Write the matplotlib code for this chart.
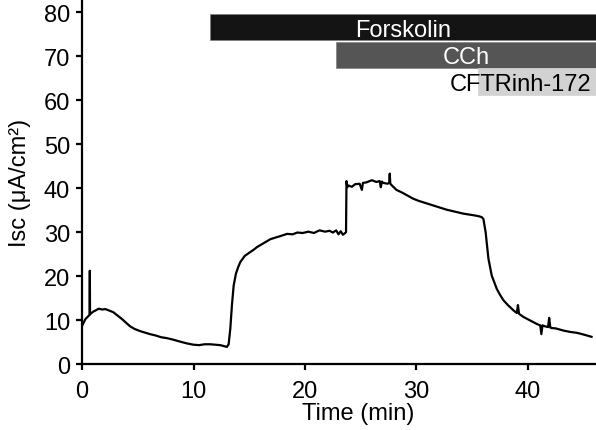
import matplotlib
matplotlib.use("Agg")
import matplotlib.pyplot as plt

plt.rcParams['font.family'] = ['Liberation Sans', 'DejaVu Sans']

# Trace: time (min) and Isc (uA/cm2)
time = [0.05, 0.3, 0.6, 0.68, 0.7, 0.72, 0.75, 1.0, 1.3, 1.5, 1.8, 2.1, 2.4, 2.8,
        3.2, 3.6, 4.0, 4.3, 4.7, 5.2, 5.6, 6.1, 6.6, 7.1, 7.6, 8.1, 8.8, 9.4, 10.0,
        10.5, 11.0, 11.5, 12.0, 12.4, 12.7, 13.0, 13.15, 13.3, 13.45, 13.6, 13.8,
        14.0, 14.2, 14.6, 15.0, 15.4, 15.7, 16.1, 16.5, 16.9, 17.3, 17.8, 18.4, 18.9,
        19.3, 19.8, 20.3, 20.8, 21.3, 21.8, 22.2, 22.5, 22.8, 23.0, 23.2, 23.4, 23.6,
        23.68, 23.72, 23.8, 23.9, 24.2, 24.5, 24.9, 25.1, 25.2, 25.5, 26.0, 26.4,
        26.7, 26.8, 26.9, 27.0, 27.4, 27.55, 27.6, 27.65, 27.8, 28.2, 28.7, 29.2,
        29.7, 30.2, 30.7, 31.2, 31.7, 32.2, 32.7, 33.2, 33.7, 34.2, 34.7, 35.2, 35.6,
        35.85, 36.0, 36.2, 36.45, 36.75, 37.0, 37.2, 37.5, 37.8, 38.2, 38.7, 39.0,
        39.1, 39.2, 39.6, 40.2, 40.8, 41.1, 41.2, 41.3, 41.5, 41.8, 41.9, 42.0, 42.1,
        42.5, 43.2, 43.8, 44.4, 45.0, 45.7]
isc = [8.9, 10.2, 11.0, 11.2, 21.2, 11.3, 11.4, 11.9, 12.3, 12.6, 12.4, 12.5, 12.2, 11.8,
       11.0, 10.2, 9.3, 8.6, 8.0, 7.5, 7.2, 6.8, 6.5, 6.1, 5.9, 5.6, 5.1, 4.7, 4.4,
       4.3, 4.5, 4.5, 4.4, 4.3, 4.1, 3.9, 4.5, 8.0, 13.5, 17.8, 20.5,
       22.0, 23.2, 24.6, 25.3, 26.0, 26.6, 27.2, 27.8, 28.4, 28.7, 29.1, 29.6, 29.5,
       29.9, 29.8, 30.1, 29.8, 30.4, 30.1, 30.3, 29.9, 30.4, 29.5, 30.2, 29.4, 29.8,
       30.0, 41.6, 40.2, 40.6, 40.3, 40.9, 41.0, 39.6, 41.2, 41.3, 41.8, 41.4,
       41.6, 40.2, 41.5, 41.2, 41.0, 41.2, 43.3, 41.0, 40.6, 39.6, 39.0, 38.3,
       37.6, 37.1, 36.7, 36.3, 35.9, 35.5, 35.1, 34.8, 34.5, 34.2, 34.0, 33.8, 33.6,
       33.4, 33.0, 30.0, 24.0, 20.1, 18.4, 17.1, 15.7, 14.5, 13.4, 12.2, 11.6,
       13.4, 11.4, 10.7, 9.9, 9.1, 8.8, 6.8, 8.8, 8.6, 8.4, 10.5, 8.3, 8.2,
       8.1, 7.6, 7.3, 7.1, 6.7, 6.2]

# Treatment bars
treatments = ["Forskolin", "CCh", "CFTRinh-172"]
t_start = [11.5, 22.75, 35.5]
t_end = [46.2, 46.2, 46.2]
bar_low = [73.6, 67.4, 61.1]
bar_high = [79.6, 73.3, 67.2]

fig = plt.figure(figsize=(5.96, 4.31), dpi=100)
ax = fig.add_axes([0.1376, 0.153, 0.8624, 0.847])

ax.plot(time, isc, color='black', lw=1.6)

colors = ['#141414', '#555555', '#d2d2d2']
for i, name in enumerate(treatments):
    ax.barh((bar_low[i] + bar_high[i]) / 2, t_end[i] - t_start[i], left=t_start[i],
            height=bar_high[i] - bar_low[i], color=colors[i],
            edgecolor='#808080' if i < 2 else colors[i], lw=0.5, zorder=3)
ax.text((t_start[0] + 46.1) / 2, (bar_low[0] + bar_high[0]) / 2, treatments[0],
        color='white', ha='center', va='center_baseline', fontsize=17, zorder=4)
ax.text((t_start[1] + 46.1) / 2, (bar_low[1] + bar_high[1]) / 2, treatments[1],
        color='white', ha='center', va='center_baseline', fontsize=17, zorder=4)
ax.text(45.7, (bar_low[2] + bar_high[2]) / 2, treatments[2],
        color='black', ha='right', va='center_baseline', fontsize=17, zorder=4)

ax.set_xlim(0, 46.1)
ax.set_ylim(0, 83)
ax.set_xticks([0, 10, 20, 30, 40])
ax.set_yticks([0, 10, 20, 30, 40, 50, 60, 70, 80])
ax.spines['top'].set_visible(False)
ax.spines['right'].set_visible(False)
for s in ['left', 'bottom']:
    ax.spines[s].set_linewidth(1.6)
ax.tick_params(direction='out', length=4.5, width=1.6, labelsize=17)
ax.tick_params(axis='x', pad=7)
ax.tick_params(axis='y', pad=4)
ax.set_xlabel('Time (min)', fontsize=17)
ax.xaxis.set_label_coords((358 - 82) / 514, -0.105)
ax.set_ylabel('Isc (μA/cm²)', fontsize=17, labelpad=9)

fig.savefig('out.png', dpi=100)
